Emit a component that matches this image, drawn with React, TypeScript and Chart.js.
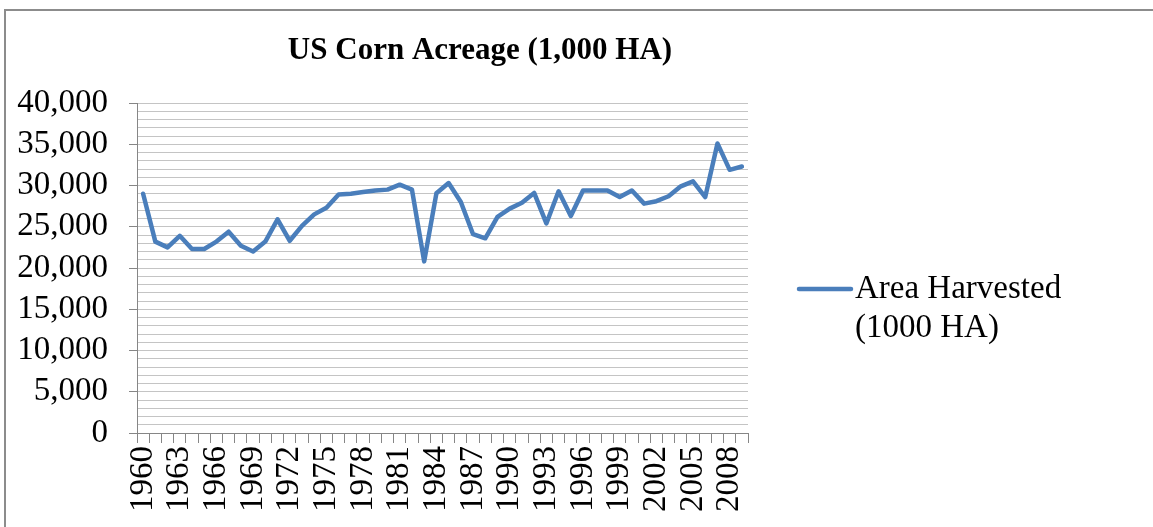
import React, { useEffect, useRef } from "react";
import { Chart, registerables } from "chart.js";

Chart.register(...registerables);

const years: string[] = [
  "1960","1961","1962","1963","1964","1965","1966","1967","1968","1969",
  "1970","1971","1972","1973","1974","1975","1976","1977","1978","1979",
  "1980","1981","1982","1983","1984","1985","1986","1987","1988","1989",
  "1990","1991","1992","1993","1994","1995","1996","1997","1998","1999",
  "2000","2001","2002","2003","2004","2005","2006","2007","2008","2009",
];

const areaHarvested: number[] = [
  29000, 23200, 22500, 23900, 22300, 22300, 23200, 24400, 22700, 22000,
  23200, 25900, 23300, 25100, 26500, 27300, 28900, 29000, 29200, 29400,
  29500, 30100, 29500, 20800, 29050, 30300, 28000, 24100, 23600, 26200,
  27200, 27900, 29100, 25400, 29300, 26300, 29400, 29400, 29400, 28600,
  29400, 27800, 28100, 28700, 29900, 30500, 28600, 35100, 31900, 32300,
];

const titleText = "US Corn Acreage (1,000 HA)";
const seriesLabel = "Area Harvested (1000 HA)";
const legendLines: string[] = ["Area Harvested", "(1000 HA)"];

const LINE_COLOR = "#4a7ebb";
const AXIS_COLOR = "#868686";
const GRID_COLOR = "#c4c4c4";
const FONT = "'Liberation Serif', 'Times New Roman', serif";

export default function App() {
  const ref = useRef<HTMLCanvasElement | null>(null);

  useEffect(() => {
    if (!ref.current) return;
    const decor = {
      id: "decor",
      beforeDraw(chart: any) {
        const ctx = chart.ctx;
        ctx.save();
        ctx.fillStyle = "#ffffff";
        ctx.fillRect(0, 0, chart.width, chart.height);
        ctx.strokeStyle = "#8c8c8c";
        ctx.lineWidth = 2;
        ctx.beginPath();
        ctx.moveTo(4, 10);
        ctx.lineTo(chart.width, 10);
        ctx.moveTo(5, 9);
        ctx.lineTo(5, chart.height);
        ctx.stroke();
        ctx.restore();
      },
      afterDraw(chart: any) {
        const ctx = chart.ctx;
        ctx.save();
        // title
        ctx.fillStyle = "#000000";
        ctx.font = `bold 31px ${FONT}`;
        ctx.textAlign = "center";
        ctx.textBaseline = "middle";
        ctx.fillText(titleText, 480, 51);
        // legend
        const ds = chart.data.datasets[0];
        ctx.strokeStyle = ds.borderColor;
        ctx.lineWidth = 4.5;
        ctx.lineCap = "round";
        ctx.beginPath();
        ctx.moveTo(799, 289);
        ctx.lineTo(851, 289);
        ctx.stroke();
        ctx.font = `33px ${FONT}`;
        ctx.textAlign = "left";
        legendLines.forEach((l, i) => ctx.fillText(l, 855, 289 + i * 39));
        ctx.restore();
      },
    };

    const chart = new Chart(ref.current, {
      type: "line",
      data: {
        labels: years,
        datasets: [
          {
            label: seriesLabel,
            data: areaHarvested,
            borderColor: LINE_COLOR,
            backgroundColor: LINE_COLOR,
            borderWidth: 4.5,
            pointRadius: 0,
            tension: 0,
            borderJoinStyle: "round",
            borderCapStyle: "round",
          },
        ],
      },
      options: {
        responsive: false,
        animation: false,
        layout: { padding: { left: 0, top: 103, right: 405, bottom: 0 } },
        plugins: {
          legend: { display: false },
          title: { display: false },
          tooltip: { enabled: false },
        },
        scales: {
          x: {
            type: "category",
            offset: true,
            afterFit: (s: any) => {
              s.height = 94;
            },
            grid: {
              offset: true,
              drawOnChartArea: false,
              tickLength: 10,
              color: AXIS_COLOR,
            },
            border: { color: AXIS_COLOR, width: 1 },
            ticks: {
              autoSkip: false,
              minRotation: 90,
              maxRotation: 90,
              padding: 3,
              color: "#000000",
              font: { family: FONT, size: 33 },
              callback: (_v: any, i: number) => (i % 3 === 0 ? years[i] : ""),
            },
          },
          y: {
            min: 0,
            max: 40000,
            afterFit: (s: any) => {
              s.width = 137;
            },
            grid: {
              color: GRID_COLOR,
              tickLength: 8,
              tickColor: (c: any) =>
                c.tick && c.tick.value % 5000 === 0 ? AXIS_COLOR : "rgba(0,0,0,0)",
            },
            border: { color: AXIS_COLOR, width: 1 },
            ticks: {
              stepSize: 1000,
              autoSkip: false,
              padding: 21,
              color: "#000000",
              font: { family: FONT, size: 33 },
              callback: (v: any) =>
                Number(v) % 5000 === 0 ? Number(v).toLocaleString("en-US") : "",
            },
          },
        },
      },
      plugins: [decor],
    });
    return () => chart.destroy();
  }, []);

  return (
    <div style={{ position: "absolute", left: 0, top: 0, width: 1153, height: 527 }}>
      <canvas ref={ref} width={1153} height={527} style={{ display: "block" }} />
    </div>
  );
}
